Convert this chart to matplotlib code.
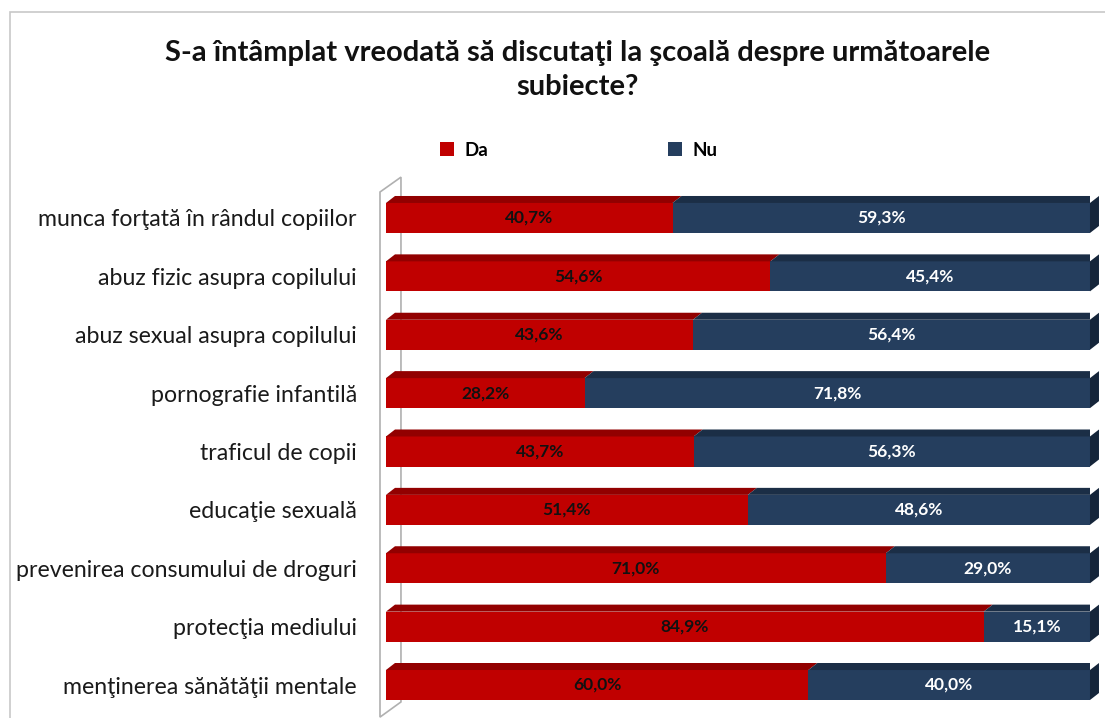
import matplotlib.pyplot as plt
from matplotlib.patches import Polygon, Rectangle

plt.rcParams['font.family'] = ['Lato', 'DejaVu Sans']

# date
categorii = ['munca forţată în rândul copiilor',
             'abuz fizic asupra copilului',
             'abuz sexual asupra copilului',
             'pornografie infantilă',
             'traficul de copii',
             'educaţie sexuală',
             'prevenirea consumului de droguri',
             'protecţia mediului',
             'menţinerea sănătăţii mentale']
da = [40.7, 54.6, 43.6, 28.2, 43.7, 51.4, 71.0, 84.9, 60.0]
nu = [59.3, 45.4, 56.4, 71.8, 56.3, 48.6, 29.0, 15.1, 40.0]

titlu = 'S-a întâmplat vreodată să discutaţi la şcoală despre următoarele\nsubiecte?'

rosu, rosu_sus = '#C00000', '#920000'
albastru, albastru_sus, albastru_lat = '#253E5E', '#1B2E46', '#15253A'

fig = plt.figure(figsize=(11.05, 7.18), dpi=100)
ax = fig.add_axes([0.3493, 0.0053, 0.6371, 0.748])

y = list(range(len(categorii)))
h = 0.514          # inaltimea barei
dx, dy = 1.28, 0.12  # adancimea 3D

b1 = ax.barh(y, da, height=h, color=rosu, label='Da', zorder=3)
b2 = ax.barh(y, nu, left=da, height=h, color=albastru, label='Nu', zorder=3)

for i in y:
    sus = i - h / 2
    jos = i + h / 2
    # fata de sus
    ax.add_patch(Polygon([(0, sus), (da[i], sus), (da[i] + dx, sus - dy), (dx, sus - dy)],
                         closed=True, color=rosu_sus, zorder=3, lw=0))
    ax.add_patch(Polygon([(da[i], sus), (100, sus), (100 + dx, sus - dy), (da[i] + dx, sus - dy)],
                         closed=True, color=albastru_sus, zorder=3, lw=0))
    # fata laterala
    ax.add_patch(Polygon([(100, sus), (100 + dx, sus - dy), (100 + dx, jos - dy), (100, jos)],
                         closed=True, color=albastru_lat, zorder=3, lw=0, clip_on=False))
    ax.text(da[i] / 2, i, f'{da[i]:.1f}%'.replace('.', ','), ha='center', va='center',
            fontsize=12.5, fontweight='bold', color='#111111', zorder=4)
    ax.text(da[i] + nu[i] / 2, i, f'{nu[i]:.1f}%'.replace('.', ','), ha='center', va='center',
            fontsize=12.5, fontweight='bold', color='white', zorder=4)

# peretele lateral
ax.add_patch(Polygon([(-0.85, -0.445), (2.13, -0.70), (2.13, 8.29), (-0.85, 8.55)],
                     closed=True, fill=False, edgecolor='#b0b0b0', lw=1.2, zorder=1, clip_on=False))

ax.set_xlim(0, 100)
ax.set_ylim(8.5, -0.7)
ax.set_yticks(y)
ax.set_yticklabels(categorii, fontsize=16.7, color='#1a1a1a')
ax.tick_params(axis='y', length=0, pad=21)
ax.set_xticks([])
for s in ax.spines.values():
    s.set_visible(False)
ax.patch.set_alpha(0)

fig.text(0.523, 0.903, titlu, ha='center', va='center', fontsize=21, fontweight='bold',
         linespacing=1.38, color='#111111')

leg = fig.legend(handles=[b1, b2], loc='center', bbox_to_anchor=(0.524, 0.791), ncol=2,
                 frameon=False, handlelength=0.75, handleheight=0.75, handletextpad=0.55,
                 columnspacing=9.6, prop={'weight': 'bold', 'size': 13.5})

# chenarul figurii
fig.patches.append(Rectangle((10 / 1105, -0.1), 1.2, (718 - 12) / 718 + 0.1, transform=fig.transFigure,
                             fill=False, edgecolor='#c8c8c8', lw=1.2, zorder=0))

plt.savefig('out.png', dpi=100)
